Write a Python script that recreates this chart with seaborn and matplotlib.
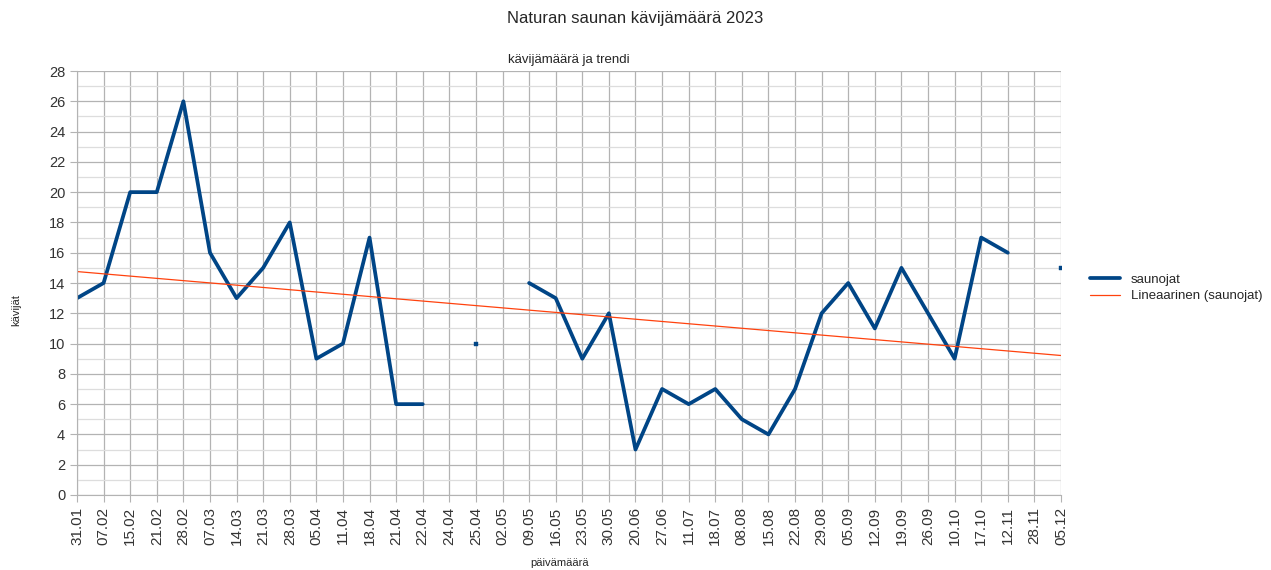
import numpy as np
import pandas as pd
import matplotlib
matplotlib.use("Agg")
import matplotlib.pyplot as plt
import seaborn as sns
from matplotlib.lines import Line2D

# päivämäärät ja kävijät
paivat = ["31.01", "07.02", "15.02", "21.02", "28.02", "07.03", "14.03", "21.03",
          "28.03", "05.04", "11.04", "18.04", "21.04", "22.04", "24.04", "25.04",
          "02.05", "09.05", "16.05", "23.05", "30.05", "20.06", "27.06", "11.07",
          "18.07", "08.08", "15.08", "22.08", "29.08", "05.09", "12.09", "19.09",
          "26.09", "10.10", "17.10", "12.11", "28.11", "05.12"]
saunojat = [13, 14, 20, 20, 26, 16, 13, 15, 18, 9, 10, 17, 6, 6, np.nan, 10,
            np.nan, 14, 13, 9, 12, 3, 7, 6, 7, 5, 4, 7, 12, 14, 11, 15, 12, 9,
            17, 16, np.nan, 15]

df = pd.DataFrame({"pvm": paivat, "saunojat": saunojat})
df["x"] = np.arange(len(df))
df["osa"] = df["saunojat"].isna().cumsum()
data = df.dropna()

sns.set_style("white")
plt.rcParams["font.family"] = ["Liberation Sans", "DejaVu Sans"]

fig = plt.figure(figsize=(12.71, 5.70), dpi=100)
ax = fig.add_axes([77 / 1271, 1 - 495 / 570, 984 / 1271, 424 / 570])

sininen = "#004586"
oranssi = "#ff420e"

sns.lineplot(data=data, x="x", y="saunojat", units="osa", estimator=None,
             color=sininen, linewidth=2.7, ax=ax, legend=False)

# yksittäiset pisteet
koko = data.groupby("osa")["x"].transform("count")
yksin = data[koko == 1]
sns.scatterplot(data=yksin, x="x", y="saunojat", marker="s", s=12,
                color=sininen, edgecolor=sininen, ax=ax, legend=False, zorder=3)

# lineaarinen trendi
k, b = np.polyfit(data["x"], data["saunojat"], 1)
trendi = pd.DataFrame({"x": [0, len(df) - 1]})
trendi["y"] = k * trendi["x"] + b
sns.lineplot(data=trendi, x="x", y="y", color=oranssi, linewidth=0.9, ax=ax,
             legend=False)

ax.set_xlim(0, len(df) - 1)
ax.set_ylim(0, 28)
ax.set_xticks(df["x"])
ax.set_xticklabels(paivat, rotation=90, fontsize=11, color="#333333")
ax.set_yticks(range(0, 29, 2))
ax.set_yticks(range(1, 28, 2), minor=True)
ax.tick_params(axis="y", labelsize=10.5, labelcolor="#333333", length=5,
               color="#b3b3b3", which="major", left=True)
ax.tick_params(axis="y", which="minor", length=0)
ax.tick_params(axis="x", length=5, color="#b3b3b3", bottom=True)
ax.grid(True, which="major", color="#b3b3b3", linewidth=0.9)
ax.grid(True, which="minor", axis="y", color="#dddddd", linewidth=0.9)
ax.set_axisbelow(True)
for s in ["top", "right"]:
    ax.spines[s].set_visible(False)
for s in ["left", "bottom"]:
    ax.spines[s].set_color("#b3b3b3")

ax.set_xlabel("")
ax.set_ylabel("")
fig.text(560 / 1271, 1 - 563 / 570, "päivämäärä", fontsize=8, ha="center", va="center")
fig.text(16 / 1271, 1 - 310 / 570, "kävijät", fontsize=8, rotation=90,
         ha="center", va="center")
ax.set_title("kävijämäärä ja trendi", fontsize=9.5, pad=6)
fig.suptitle("Naturan saunan kävijämäärä 2023", fontsize=12, y=0.98)

kahvat = [Line2D([], [], color=sininen, linewidth=2.7),
          Line2D([], [], color=oranssi, linewidth=0.9)]
fig.legend(kahvat, ["saunojat", "Lineaarinen (saunojat)"],
           loc="center left", bbox_to_anchor=(1078 / 1271, 1 - 288 / 570),
           frameon=False, fontsize=9.5, handlelength=2.3, labelspacing=0.3)

fig.savefig("out.png", dpi=100)
